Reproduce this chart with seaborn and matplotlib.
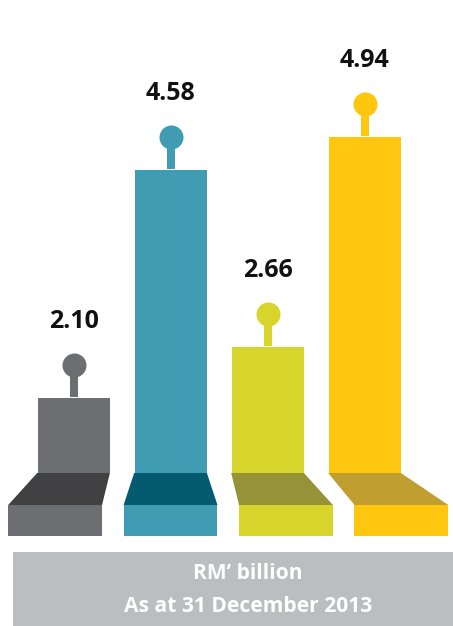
import seaborn as sns
import matplotlib.pyplot as plt
import pandas as pd
from matplotlib.patches import Polygon, Rectangle

# values in RM' billion
categories = ['A', 'B', 'C', 'D']
values = [2.10, 4.58, 2.66, 4.94]
labels = ['2.10', '4.58', '2.66', '4.94']
bar_colors = ['#6d6e71', '#409cb2', '#d7d42c', '#fec60f']
face_colors = ['#414042', '#045b6f', '#959338', '#c19e30']

sns.set_style('white')
plt.rcParams['font.family'] = ['Open Sans', 'DejaVu Sans']

df = pd.DataFrame({'cat': categories, 'value': values})

# dpi 72 so 1 pt == 1 px
W, H = 453, 626
fig = plt.figure(figsize=(W / 72, H / 72), dpi=72)

# main axes: from the bar base (y=473 px) up to the top edge
base_px = 473
ax = fig.add_axes([0, (H - base_px) / H, 1, base_px / H])
sns.barplot(data=df, x='cat', y='value', hue='cat', palette=bar_colors,
            width=0.75, saturation=1, legend=False, ax=ax)
ax.set_xlim(-0.758, 3.912)
ax.set_ylim(1.28, 6.41)
ax.axis('off')

px = (6.41 - 1.28) / base_px  # data units per pixel
for i, (v, lab, c) in enumerate(zip(values, labels, bar_colors)):
    ax.plot([i, i], [v, v + 32 * px], color=c, lw=8, solid_capstyle='butt', zorder=3)
    ax.scatter([i], [v + 32 * px], s=24 ** 2, color=c, zorder=4, linewidths=0)
    ax.annotate(lab, (i, v), xytext=(0, 69), textcoords='offset points',
                ha='center', va='baseline', fontsize=25, fontweight='bold',
                color='#111111')

# pedestals under the bars
ped = fig.add_axes([0, (H - 536) / H, 1, 63 / H])
ped.set_xlim(-0.758, 3.912)
ped.set_ylim(0, 63)
ped.axis('off')
for i, (bc, fc) in enumerate(zip(bar_colors, face_colors)):
    half = 0.375
    bc_center = 1 + (i - 1) * 1.19
    bhalf = half * 1.29
    ped.add_patch(Polygon([(i - half, 63), (i + half, 63),
                           (bc_center + bhalf, 31), (bc_center - bhalf, 31)],
                          closed=True, facecolor=fc, edgecolor='none', clip_on=False))
    ped.add_patch(Rectangle((bc_center - bhalf, 0), 2 * bhalf, 31,
                            facecolor=bc, edgecolor='none', clip_on=False))

# caption box
fig.patches.append(Rectangle((13 / W, 0), 1, 74 / H, transform=fig.transFigure,
                             facecolor='#bcbdbf', edgecolor='none'))
fig.text(248 / W, 1 - 579 / H, "RM\u2019 billion", ha='center', va='baseline',
         fontsize=21, fontweight='bold', color='white')
fig.text(248 / W, 1 - 612 / H, "As at 31 December 2013", ha='center', va='baseline',
         fontsize=21, fontweight='bold', color='white')

fig.savefig('out.png', dpi=72)
